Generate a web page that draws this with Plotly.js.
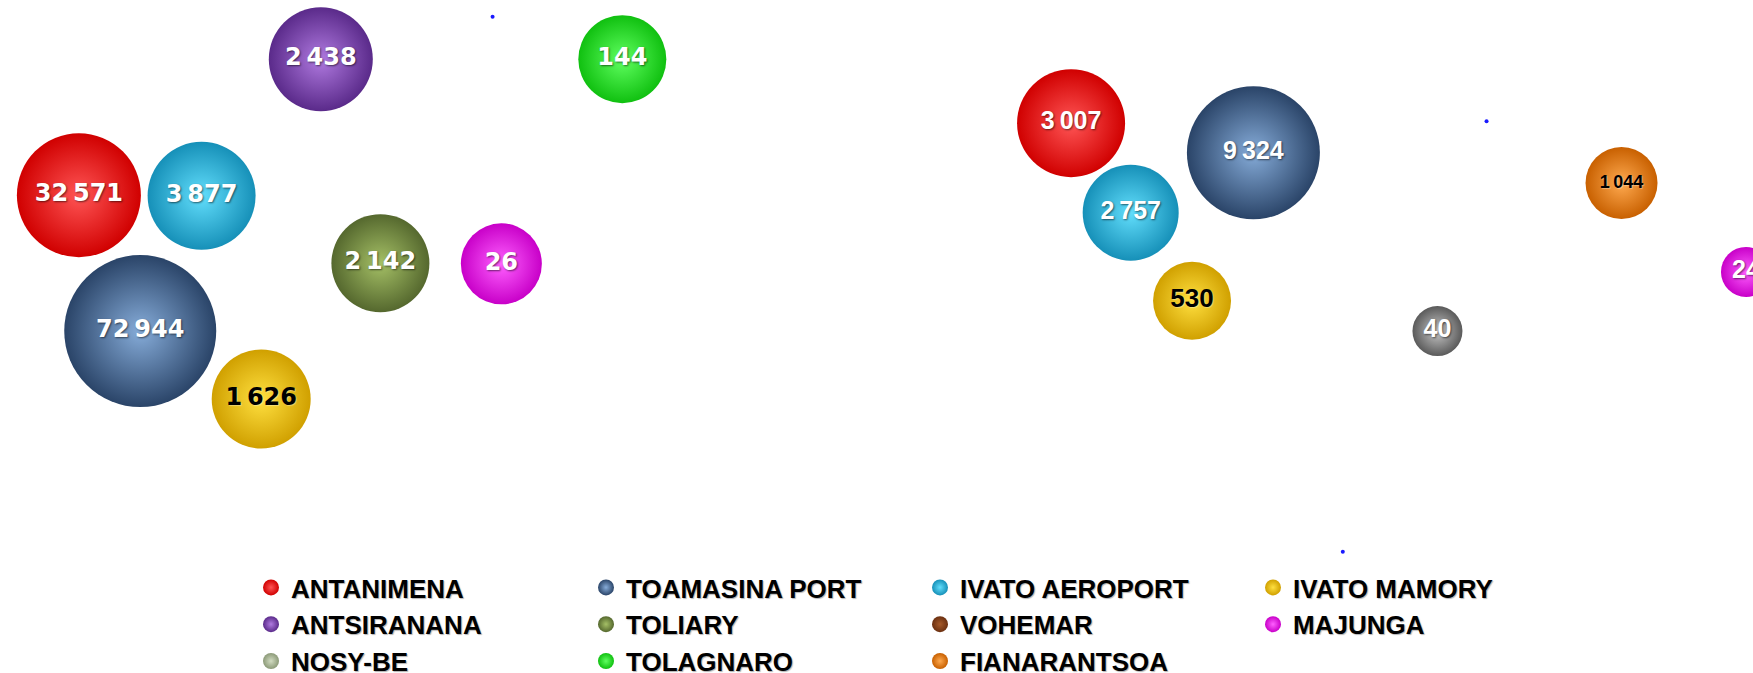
<!DOCTYPE html>
<html>
<head>
<meta charset="utf-8">
<script src="https://cdn.plot.ly/plotly-3.0.1.min.js"></script>
<style>
  html, body { margin: 0; padding: 0; background: #ffffff; }
  #chart { width: 1753px; height: 673px; }
</style>
</head>
<body>
<div id="chart"></div>
<script>
// ---- Categories (legend entries) ----
const categories = [
  "ANTANIMENA", "TOAMASINA PORT", "IVATO AEROPORT", "IVATO MAMORY",
  "ANTSIRANANA", "TOLIARY", "VOHEMAR", "MAJUNGA",
  "NOSY-BE", "TOLAGNARO", "FIANARANTSOA"
];

// ---- Bubbles: one entry per drawn bubble ----
// panel 0 = left group, panel 1 = right group
const pointCategory = [
  "ANTANIMENA", "TOAMASINA PORT", "IVATO AEROPORT", "IVATO MAMORY",
  "ANTSIRANANA", "TOLIARY", "MAJUNGA", "TOLAGNARO",
  "ANTANIMENA", "TOAMASINA PORT", "IVATO AEROPORT", "IVATO MAMORY",
  "NOSY-BE", "FIANARANTSOA", "MAJUNGA"
];
const pointPanel = [0, 0, 0, 0, 0, 0, 0, 0, 1, 1, 1, 1, 1, 1, 1];
const pointX = [4.5, 8.0, 11.5, 14.9, 18.3, 21.7, 28.6, 35.5, 61.1, 71.5, 64.5, 68.0, 82.0, 92.5, 99.6];
const pointY = [71.0, 50.8, 70.9, 40.7, 91.2, 60.9, 60.8, 91.2, 81.7, 77.3, 68.4, 55.3, 50.8, 72.8, 59.6];
const pointValue = [32571, 72944, 3877, 1626, 2438, 2142, 26, 144, 3007, 9324, 2757, 530, 40, 1044, 24];
const pointBubble = [124, 152, 108, 99, 104, 98, 81, 88, 108, 133, 96, 78, 50, 72, 50];

// small blue markers
const dotX = [28.1, 84.8, 76.6];
const dotY = [97.5, 82.0, 18.0];

// ---- Styles ----
const labelFontSize = [24, 24, 24, 24, 24, 24, 24, 24, 25, 25, 25, 26, 25, 18, 25];
const catColor = {
  "ANTANIMENA":     ["#d00000", "#ff5555"],
  "TOAMASINA PORT": ["#2a4468", "#86acd9"],
  "IVATO AEROPORT": ["#1690b8", "#62defc"],
  "IVATO MAMORY":   ["#d0a000", "#ffe040"],
  "ANTSIRANANA":    ["#5a2a8a", "#b07ae0"],
  "TOLIARY":        ["#55682e", "#a5c066"],
  "VOHEMAR":        ["#6b3010", "#a65a2a"],
  "MAJUNGA":        ["#c800c8", "#ff60ff"],
  "NOSY-BE":        ["#8c9a78", "#d2dcc2"],
  "TOLAGNARO":      ["#10c010", "#60ff60"],
  "FIANARANTSOA":   ["#c86000", "#ffaa50"]
};
const grayBubble = ["#5a5a5a", "#c8c8c8"];
const darkLabelCats = ["IVATO MAMORY", "FIANARANTSOA"];
const legendOf = {
  "ANTANIMENA": "legend", "ANTSIRANANA": "legend", "NOSY-BE": "legend",
  "TOAMASINA PORT": "legend2", "TOLIARY": "legend2", "TOLAGNARO": "legend2",
  "IVATO AEROPORT": "legend3", "VOHEMAR": "legend3", "FIANARANTSOA": "legend3",
  "IVATO MAMORY": "legend4", "MAJUNGA": "legend4"
};
const legendOrder = [
  "ANTANIMENA", "ANTSIRANANA", "NOSY-BE",
  "TOAMASINA PORT", "TOLIARY", "TOLAGNARO",
  "IVATO AEROPORT", "VOHEMAR", "FIANARANTSOA",
  "IVATO MAMORY", "MAJUNGA"
];

function fmt(v) { return String(v).replace(/\B(?=(\d{3})+(?!\d))/g, "\u2009"); }

const leftFont = "'DejaVu Sans', sans-serif";
const rightFont = "'Liberation Sans', Arial, sans-serif";

const traces = [];
categories.forEach(function (cat) {
  const idx = [];
  pointCategory.forEach(function (c, i) { if (c === cat) idx.push(i); });
  const isGrayCat = (cat === "NOSY-BE");
  const cols = catColor[cat];
  // first (null) entry only carries the legend colour
  const xs = [null], ys = [null], txt = [""], sz = [16];
  const edge = [cols[0]], center = [cols[1]], fam = [leftFont], fsz = [24];
  idx.forEach(function (i) {
    xs.push(pointX[i]); ys.push(pointY[i]); txt.push(fmt(pointValue[i]));
    sz.push(pointBubble[i]);
    const cc = isGrayCat ? grayBubble : cols;
    edge.push(cc[0]); center.push(cc[1]);
    fam.push(pointPanel[i] === 0 ? leftFont : rightFont);
    fsz.push(labelFontSize[i]);
  });
  const dark = darkLabelCats.indexOf(cat) >= 0;
  traces.push({
    type: "scatter",
    mode: "markers+text",
    name: cat,
    legend: legendOf[cat],
    legendgroup: cat,
    legendrank: legendOrder.indexOf(cat),
    x: xs, y: ys, text: txt,
    textposition: "middle center",
    cliponaxis: false,
    hoverinfo: "skip",
    marker: {
      size: sz, sizemode: "diameter", sizeref: 1,
      color: edge,
      gradient: { type: "radial", color: center },
      line: { width: 0 },
      opacity: 1
    },
    textfont: {
      family: fam, size: fsz, weight: "bold",
      color: dark ? "#000000" : "#ffffff",
      shadow: dark ? "1px 1px 1px rgba(255,255,255,0.35)" : "1px 1px 2px rgba(0,0,0,0.55)"
    }
  });
});

traces.push({
  type: "scatter", mode: "markers", x: dotX, y: dotY, showlegend: false,
  hoverinfo: "skip", cliponaxis: false,
  marker: { size: 4, color: "#1a1aff" }
});

const legendFont = { family: "'Liberation Sans', Arial, sans-serif", size: 26, color: "#000000", weight: "bold",
  shadow: "1px 1px 1px rgba(0,0,0,0.3)" };
function mkLegend(px) {
  return {
    x: px / 1753, xanchor: "left", y: 1 - 564 / 673, yanchor: "top",
    orientation: "v", font: legendFont, bgcolor: "rgba(0,0,0,0)", borderwidth: 0,
    tracegroupgap: 3, traceorder: "normal", itemclick: false, itemdoubleclick: false
  };
}

const layout = {
  width: 1753, height: 673,
  margin: { l: 0, r: 0, t: 0, b: 0, pad: 0, autoexpand: false },
  paper_bgcolor: "#ffffff", plot_bgcolor: "#ffffff",
  xaxis: { range: [0, 100], visible: false, fixedrange: true },
  yaxis: { range: [0, 100], visible: false, fixedrange: true },
  showlegend: true,
  legend: mkLegend(251),
  legend2: mkLegend(586),
  legend3: mkLegend(920),
  legend4: mkLegend(1253),
  hovermode: false
};

Plotly.newPlot("chart", traces, layout, { displayModeBar: false, staticPlot: true });
</script>
</body>
</html>
